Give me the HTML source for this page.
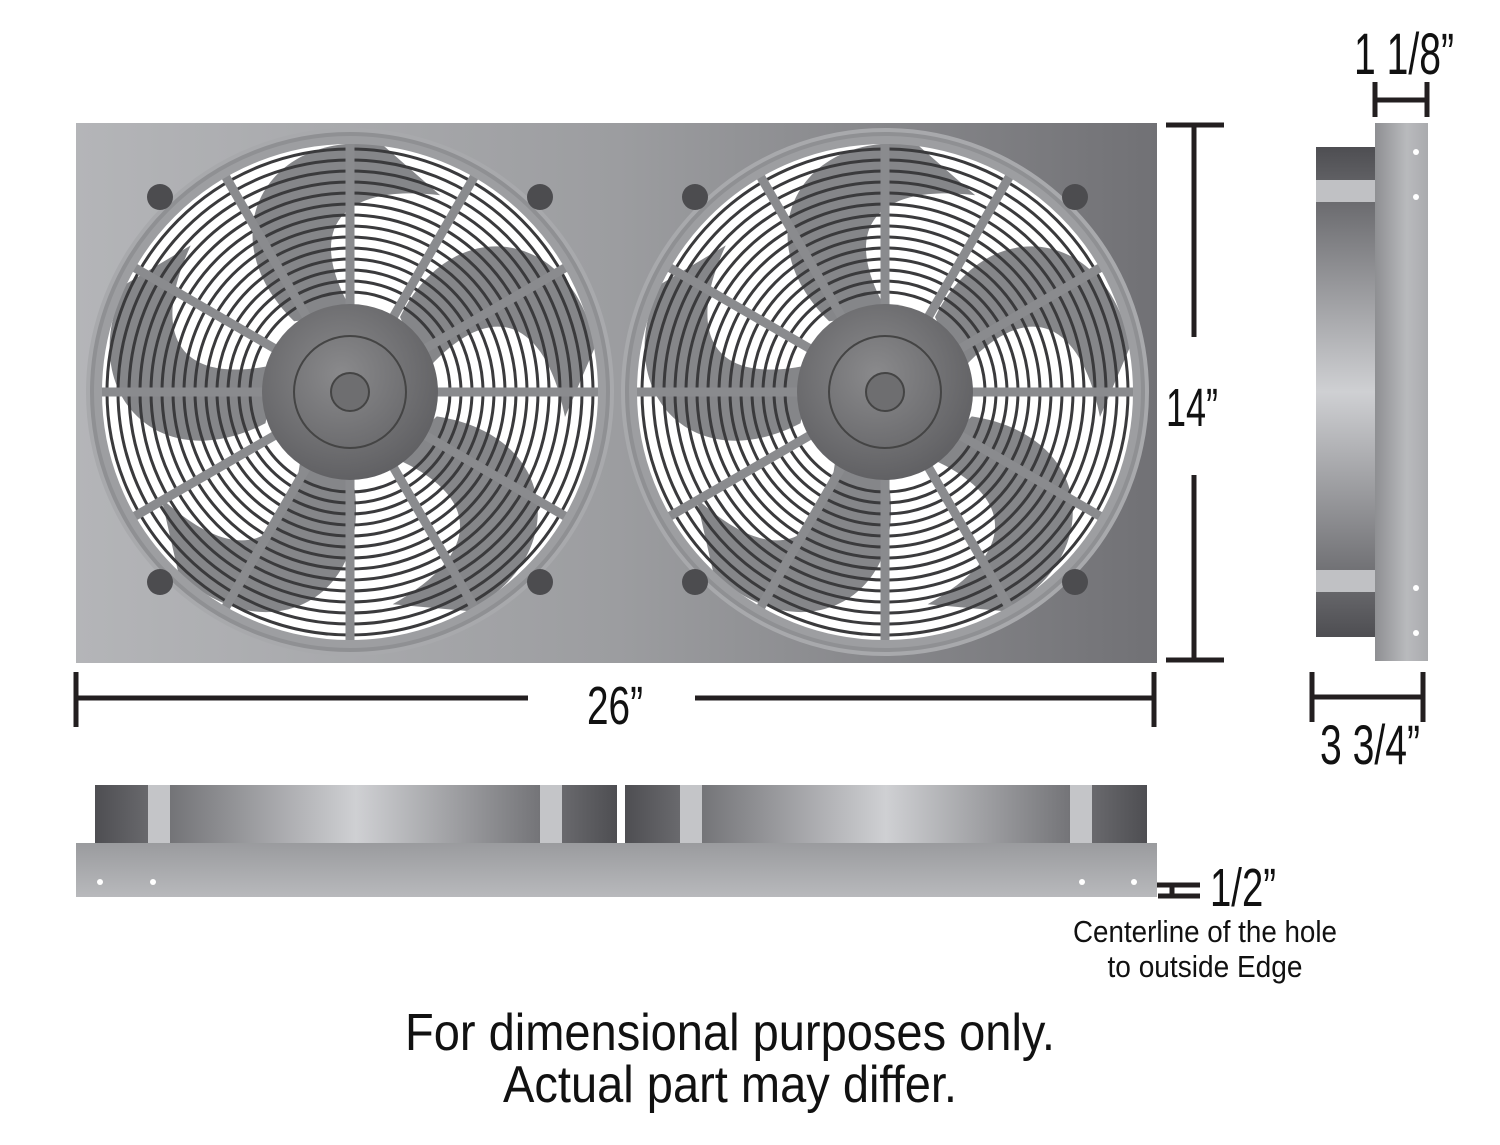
<!DOCTYPE html>
<html><head><meta charset="utf-8"><style>html,body{margin:0;padding:0;background:#fff}svg{display:block}</style></head>
<body>
<svg width="1500" height="1145" viewBox="0 0 1500 1145" xmlns="http://www.w3.org/2000/svg" font-family="'Liberation Sans', sans-serif">
<defs>
<linearGradient id="panel" x1="0" x2="1" y1="0" y2="0">
<stop offset="0" stop-color="#b4b5b8"/><stop offset="0.5" stop-color="#9c9da0"/><stop offset="1" stop-color="#717175"/></linearGradient>
<radialGradient id="hub" cx="0.45" cy="0.4" r="0.7"><stop offset="0" stop-color="#8a8a8c"/><stop offset="1" stop-color="#5a5a5d"/></radialGradient>
<linearGradient id="shroud" x1="0" x2="1"><stop offset="0" stop-color="#4e4e52"/><stop offset="0.5" stop-color="#cfd0d3"/><stop offset="1" stop-color="#4e4e52"/></linearGradient>
<linearGradient id="shroudV" x1="0" x2="0" y1="0" y2="1"><stop offset="0" stop-color="#4e4e52"/><stop offset="0.5" stop-color="#cfd0d3"/><stop offset="1" stop-color="#4e4e52"/></linearGradient>
<linearGradient id="flangeH" x1="0" x2="0" y1="0" y2="1"><stop offset="0" stop-color="#9a9b9e"/><stop offset="1" stop-color="#b8b9bc"/></linearGradient>
<linearGradient id="flangeV" x1="0" x2="1"><stop offset="0" stop-color="#8e8f92"/><stop offset="0.6" stop-color="#b9babd"/><stop offset="1" stop-color="#aaabae"/></linearGradient>
<g id="fan">
 <circle r="262" fill="#8f9093" stroke="#a8a9ac" stroke-width="4"/>
 <circle r="250" fill="#ffffff"/>
 <g fill="#858689">
  <path id="bl" d="M50,-75 C105,-185 225,-160 245,-45 L215,25 C195,-75 140,-95 75,-20 Z"/>
  <use href="#bl" transform="rotate(72)"/><use href="#bl" transform="rotate(144)"/><use href="#bl" transform="rotate(216)"/><use href="#bl" transform="rotate(288)"/>
 </g>
 <g fill="none" stroke="#3a3a3c" stroke-width="3">
  <circle r="100"/><circle r="111"/><circle r="122"/><circle r="133"/><circle r="144"/><circle r="155"/><circle r="166"/><circle r="177"/><circle r="188"/><circle r="199"/><circle r="210"/><circle r="221"/><circle r="232"/><circle r="243"/>
 </g>
 <g stroke="#8a8b8e" stroke-width="9">
  <line x1="0" y1="-85" x2="0" y2="-252"/><line x1="0" y1="-85" x2="0" y2="-252" transform="rotate(30)"/><line x1="0" y1="-85" x2="0" y2="-252" transform="rotate(60)"/><line x1="0" y1="-85" x2="0" y2="-252" transform="rotate(90)"/><line x1="0" y1="-85" x2="0" y2="-252" transform="rotate(120)"/><line x1="0" y1="-85" x2="0" y2="-252" transform="rotate(150)"/><line x1="0" y1="-85" x2="0" y2="-252" transform="rotate(180)"/><line x1="0" y1="-85" x2="0" y2="-252" transform="rotate(210)"/><line x1="0" y1="-85" x2="0" y2="-252" transform="rotate(240)"/><line x1="0" y1="-85" x2="0" y2="-252" transform="rotate(270)"/><line x1="0" y1="-85" x2="0" y2="-252" transform="rotate(300)"/><line x1="0" y1="-85" x2="0" y2="-252" transform="rotate(330)"/>
 </g>
 <circle r="252" fill="none" stroke="#9d9ea1" stroke-width="8"/>
 <circle r="88" fill="url(#hub)"/>
 <circle r="56" fill="none" stroke="#444" stroke-width="2"/>
 <circle r="19" fill="#6e6e70" stroke="#444" stroke-width="2"/>
 <g fill="#4c4c4f"><circle cx="-190" cy="-195" r="13"/><circle cx="190" cy="-195" r="13"/><circle cx="-190" cy="190" r="13"/><circle cx="190" cy="190" r="13"/></g>
</g>
</defs>

<rect x="76" y="123" width="1081" height="540" fill="url(#panel)"/>
<use href="#fan" x="350" y="392"/>
<use href="#fan" x="885" y="392"/>

<g stroke="#231f20" stroke-width="5" fill="none">
<line x1="1166" y1="125" x2="1224" y2="125"/><line x1="1166" y1="660" x2="1224" y2="660"/>
<line x1="1194" y1="125" x2="1194" y2="337"/><line x1="1194" y1="475" x2="1194" y2="660"/>
<line x1="76" y1="672" x2="76" y2="727"/><line x1="1154" y1="672" x2="1154" y2="727"/>
<line x1="76" y1="698" x2="528" y2="698"/><line x1="695" y1="698" x2="1154" y2="698"/>
<line x1="1375" y1="82" x2="1375" y2="117"/><line x1="1427" y1="82" x2="1427" y2="117"/><line x1="1375" y1="100" x2="1427" y2="100"/>
<line x1="1312" y1="672" x2="1312" y2="722"/><line x1="1423" y1="672" x2="1423" y2="722"/><line x1="1312" y1="697" x2="1423" y2="697"/>
<line x1="1146" y1="885" x2="1200" y2="885"/><line x1="1158" y1="896" x2="1200" y2="896"/><line x1="1172" y1="885" x2="1172" y2="896"/>
</g>
<g fill="#111">
<text x="1192" y="426" font-size="54" text-anchor="middle" textLength="52" lengthAdjust="spacingAndGlyphs">14”</text>
<text x="615" y="724" font-size="54" text-anchor="middle" textLength="56" lengthAdjust="spacingAndGlyphs">26”</text>
<text x="1404" y="74" font-size="58" text-anchor="middle" textLength="100" lengthAdjust="spacingAndGlyphs">1 1/8”</text>
<text x="1370" y="764" font-size="56" text-anchor="middle" textLength="100" lengthAdjust="spacingAndGlyphs">3 3/4”</text>
<text x="1210" y="906" font-size="54" textLength="66" lengthAdjust="spacingAndGlyphs">1/2”</text>
<text x="1205" y="942" font-size="31" text-anchor="middle" textLength="264" lengthAdjust="spacingAndGlyphs">Centerline of the hole</text>
<text x="1205" y="977" font-size="31" text-anchor="middle" textLength="195" lengthAdjust="spacingAndGlyphs">to outside Edge</text>
<text x="730" y="1050" font-size="52" text-anchor="middle" textLength="650" lengthAdjust="spacingAndGlyphs">For dimensional purposes only.</text>
<text x="730" y="1102" font-size="52" text-anchor="middle" textLength="454" lengthAdjust="spacingAndGlyphs">Actual part may differ.</text>
</g>

<rect x="1316" y="147" width="60" height="490" fill="url(#shroudV)"/>
<rect x="1316" y="180" width="60" height="22" fill="#c0c1c4"/>
<rect x="1316" y="570" width="60" height="22" fill="#c0c1c4"/>
<rect x="1375" y="123" width="53" height="538" fill="url(#flangeV)"/>
<g fill="#fff"><circle cx="1416" cy="152" r="3"/><circle cx="1416" cy="197" r="3"/><circle cx="1416" cy="588" r="3"/><circle cx="1416" cy="633" r="3"/></g>

<rect x="95" y="785" width="522" height="59" fill="url(#shroud)"/>
<rect x="625" y="785" width="522" height="59" fill="url(#shroud)"/>
<g fill="#c4c5c8"><rect x="148" y="785" width="22" height="59"/><rect x="540" y="785" width="22" height="59"/><rect x="680" y="785" width="22" height="59"/><rect x="1070" y="785" width="22" height="59"/></g>
<rect x="76" y="843" width="1081" height="54" fill="url(#flangeH)"/>
<g fill="#fff"><circle cx="100" cy="882" r="3"/><circle cx="153" cy="882" r="3"/><circle cx="1082" cy="882" r="3"/><circle cx="1134" cy="882" r="3"/></g>
</svg>
</body></html>
